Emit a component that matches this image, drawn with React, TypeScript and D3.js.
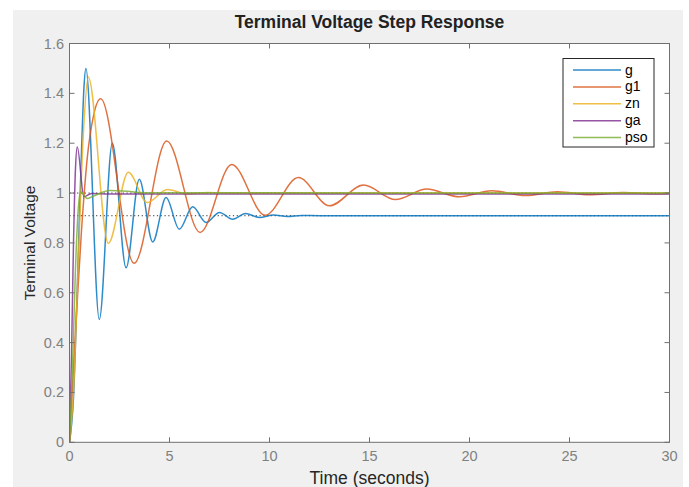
import React from "react";
import * as d3 from "d3";

// axis ticks
const xTicks = [0, 5, 10, 15, 20, 25, 30];
const yTicks = [0, 0.2, 0.4, 0.6, 0.8, 1, 1.2, 1.4, 1.6];

// legend names, in draw order
const seriesNames = ["g", "g1", "zn", "ga", "pso"];

// step responses: [time, voltage]
const gData: [number, number][] = [
  [0, 0], [0.2, 0.18], [0.4, 0.65], [0.6, 1.17], [0.72, 1.42], [0.82, 1.5],
  [1.49, 0.493], [2.14, 1.2], [2.83, 0.7], [3.49, 1.055], [4.16, 0.804],
  [4.83, 0.982], [5.49, 0.855], [6.16, 0.945], [6.83, 0.882], [7.5, 0.922],
  [8.16, 0.895], [8.8, 0.918], [9.5, 0.902], [10.2, 0.912], [10.9, 0.906],
  [11.6, 0.91], [12.5, 0.909], [30, 0.909],
];
const g1Data: [number, number][] = [
  [0, 0], [0.3, 0.45], [0.6, 0.85], [0.9, 1.15], [1.2, 1.31], [1.56, 1.378],
  [3.23, 0.718], [4.86, 1.209], [6.53, 0.842], [8.11, 1.115], [9.78, 0.911],
  [11.44, 1.062], [13.0, 0.949], [14.7, 1.032], [16.3, 0.974], [17.86, 1.016],
  [19.5, 0.985], [21.1, 1.009], [22.8, 0.99], [24.4, 1.005], [26.0, 0.993],
  [27.7, 1.002], [29.3, 0.997], [30, 0.998],
];
const znData: [number, number][] = [
  [0, 0], [0.2, 0.2], [0.45, 0.75], [0.7, 1.25], [0.94, 1.466], [1.94, 0.798],
  [2.94, 1.083], [3.89, 0.962], [4.89, 1.014], [5.9, 0.996], [6.9, 1.002],
  [8, 1.0], [30, 1.0],
];
const gaData: [number, number][] = [
  [0, 0], [0.1, 0.35], [0.2, 0.8], [0.3, 1.1], [0.39, 1.185], [0.72, 0.985],
  [1.1, 0.998], [2, 0.996], [30, 0.996],
];
const psoData: [number, number][] = [
  [0, 0], [0.15, 0.3], [0.3, 0.7], [0.45, 0.95], [0.56, 1.005], [0.88, 0.978],
  [1.2, 0.988], [2.0, 1.01], [2.9, 1.007], [3.7, 1.001], [30, 1.0],
];

// steady-state levels (dotted)
const steadyLevels = [1.0, 0.909];

const allSeries = [gData, g1Data, znData, gaData, psoData];
const colors = ["#0072BD", "#D95319", "#EDB120", "#7E2F8E", "#77AC30"];

export default function App() {
  const W = 689, H = 487;
  const left = 69.5, right = 669.5, top = 43.5, bottom = 442.3;

  const x = d3.scaleLinear().domain([0, 30]).range([left, right]);
  const y = d3.scaleLinear().domain([0, 1.6]).range([bottom, top]);

  const line = d3
    .line<[number, number]>()
    .x(d => x(d[0]))
    .y(d => y(d[1]))
    .curve(d3.curveMonotoneX);

  const axisColor = "#707070";
  const tickColor = "#808080";
  const font = "'Liberation Sans', Arial, sans-serif";

  // legend placement
  const lg = { x: 563, y: 58.5, w: 91, h: 88.5, row: 16.9 };

  return (
    <svg
      width={W}
      height={H}
      style={{ position: "absolute", left: 0, top: 0, background: "#fff" }}
      fontFamily={font}
    >
      <rect x={13} y={10} width={670} height={H - 10} fill="#f0f0f0" />
      <rect x={left} y={top} width={right - left} height={bottom - top} fill="#fff" />

      <defs>
        <clipPath id="plotClip">
          <rect x={left} y={top} width={right - left} height={bottom - top} />
        </clipPath>
      </defs>

      {/* steady state dotted lines */}
      {steadyLevels.map((v, i) => (
        <line
          key={"s" + i}
          x1={left}
          x2={right}
          y1={y(v)}
          y2={y(v)}
          stroke="#333"
          strokeWidth={1}
          strokeDasharray="1.2,2.6"
        />
      ))}

      <g clipPath="url(#plotClip)">
        {allSeries.map((s, i) => (
          <path
            key={seriesNames[i]}
            d={line(s) || ""}
            fill="none"
            stroke={colors[i]}
            strokeWidth={1.5}
            strokeOpacity={0.82}
          />
        ))}
      </g>

      {/* box */}
      <rect
        x={left}
        y={top}
        width={right - left}
        height={bottom - top}
        fill="none"
        stroke={axisColor}
        strokeWidth={1}
      />

      {/* x ticks */}
      {xTicks.map(t => (
        <g key={"x" + t}>
          <line x1={x(t)} x2={x(t)} y1={bottom} y2={bottom - 5} stroke={axisColor} />
          <line x1={x(t)} x2={x(t)} y1={top} y2={top + 5} stroke={axisColor} />
          <text
            x={x(t)}
            y={461}
            textAnchor="middle"
            fontSize={14.5}
            fill={tickColor}
          >
            {t}
          </text>
        </g>
      ))}

      {/* y ticks */}
      {yTicks.map(t => (
        <g key={"y" + t}>
          <line x1={left} x2={left + 5} y1={y(t)} y2={y(t)} stroke={axisColor} />
          <line x1={right} x2={right - 5} y1={y(t)} y2={y(t)} stroke={axisColor} />
          <text
            x={64}
            y={y(t) + 5}
            textAnchor="end"
            fontSize={14.5}
            fill={tickColor}
          >
            {d3.format("~g")(t)}
          </text>
        </g>
      ))}

      <text
        x={(left + right) / 2}
        y={28}
        textAnchor="middle"
        fontSize={17.5}
        fontWeight="bold"
        fill="#222"
      >
        Terminal Voltage Step Response
      </text>
      <text
        x={(left + right) / 2}
        y={484}
        textAnchor="middle"
        fontSize={17.5}
        fill="#262626"
      >
        Time (seconds)
      </text>
      <text
        transform={`translate(35,${(top + bottom) / 2}) rotate(-90)`}
        textAnchor="middle"
        fontSize={15.5}
        fill="#262626"
      >
        Terminal Voltage
      </text>

      {/* legend */}
      <rect x={lg.x} y={lg.y} width={lg.w} height={lg.h} fill="#fff" stroke="#262626" strokeWidth={1} />
      {seriesNames.map((n, i) => {
        const ry = 70 + i * lg.row;
        return (
          <g key={"l" + n}>
            <line x1={573} x2={621} y1={ry} y2={ry} stroke={colors[i]} strokeWidth={1.5} strokeOpacity={0.82} />
            <text x={625} y={ry + 4.5} fontSize={14} fill="#000">
              {n}
            </text>
          </g>
        );
      })}
    </svg>
  );
}
